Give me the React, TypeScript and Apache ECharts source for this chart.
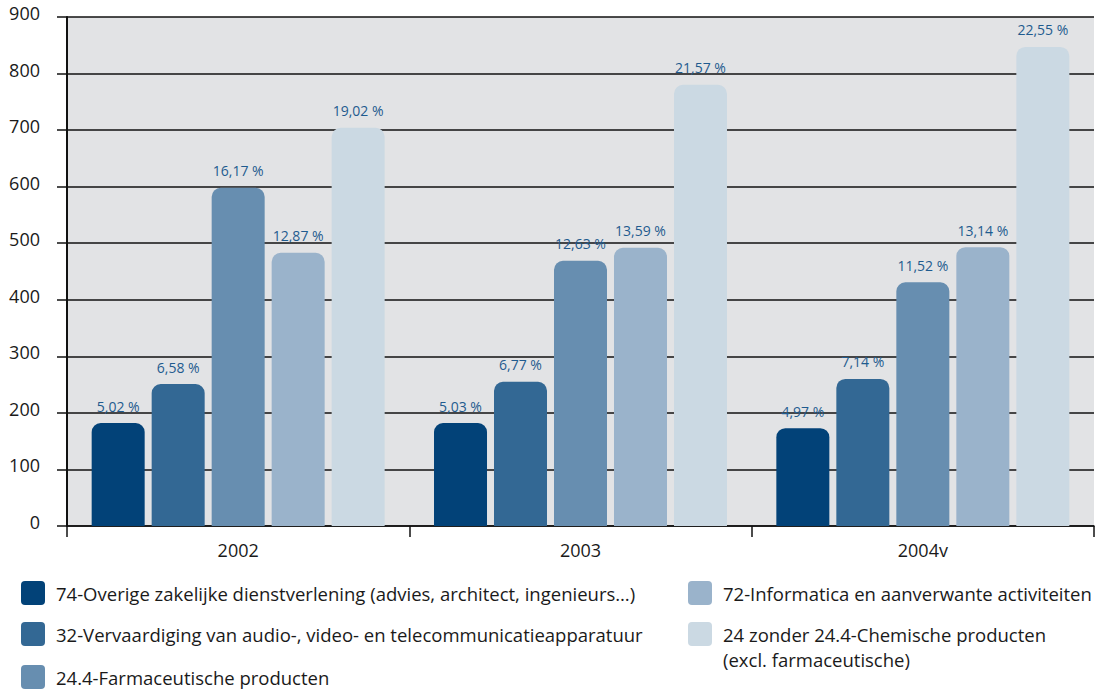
import React, { useEffect, useRef } from "react";
import * as echarts from "echarts";

const years = ["2002", "2003", "2004v"];
const seriesNames = [
  "74-Overige zakelijke dienstverlening (advies, architect, ingenieurs…)",
  "32-Vervaardiging van audio-, video- en telecommunicatieapparatuur",
  "24.4-Farmaceutische producten",
  "72-Informatica en aanverwante activiteiten",
  "24 zonder 24.4-Chemische producten\n(excl. farmaceutische)",
];
const s1 = [182, 182, 173];
const s2 = [251, 255, 260];
const s3 = [598, 469, 431];
const s4 = [483, 492, 493];
const s5 = [704, 780, 847];
const p1 = ["5,02 %", "5,03 %", "4,97 %"];
const p2 = ["6,58 %", "6,77 %", "7,14 %"];
const p3 = ["16,17 %", "12,63 %", "11,52 %"];
const p4 = ["12,87 %", "13,59 %", "13,14 %"];
const p5 = ["19,02 %", "21,57 %", "22,55 %"];
const yTicks = [0, 100, 200, 300, 400, 500, 600, 700, 800, 900];

const values = [s1, s2, s3, s4, s5];
const pcts = [p1, p2, p3, p4, p5];
const colors = ["#024278", "#336894", "#678eb0", "#9ab3cb", "#cbd9e3"];
const FONT = "'Open Sans', sans-serif";

export default function App() {
  const ref = useRef<HTMLDivElement>(null);
  useEffect(() => {
    if (!ref.current) return;
    const chart = echarts.init(ref.current, null, { renderer: "svg" });

    const legendPos = [
      { x: 21, y: 593 },
      { x: 21, y: 634 },
      { x: 21, y: 677 },
      { x: 688, y: 593 },
      { x: 688, y: 634 },
    ];
    const legendGraphics: any[] = [];
    seriesNames.forEach((name, i) => {
      const p = legendPos[i];
      legendGraphics.push({
        type: "rect",
        shape: { x: p.x, y: p.y - 12, width: 24, height: 24, r: 4 },
        style: { fill: colors[i] },
      });
      legendGraphics.push({
        type: "text",
        x: p.x + 35,
        y: p.y - 12.5,
        style: {
          text: name,
          font: `18.5px ${FONT}`,
          fill: "#1a1a1a",
          lineHeight: 25,
          verticalAlign: "top",
        },
      });
    });

    chart.setOption({
      animation: false,
      backgroundColor: "#ffffff",
      grid: {
        left: 67,
        right: 15,
        top: 17,
        bottom: 163,
        show: true,
        backgroundColor: "#e2e3e5",
        borderWidth: 0,
      },
      xAxis: {
        type: "category",
        data: years,
        axisLine: { lineStyle: { color: "#111", width: 1.5 } },
        axisTick: { show: true, length: 11, lineStyle: { color: "#111", width: 1.5 } },
        axisLabel: { color: "#1a1a1a", fontSize: 18, fontFamily: FONT, margin: 15 },
      },
      yAxis: {
        type: "value",
        min: 0,
        max: 900,
        interval: 100,
        axisLine: { show: true, lineStyle: { color: "#111", width: 2 } },
        axisTick: { show: true, length: 10, lineStyle: { color: "#111", width: 1.5 } },
        splitLine: { show: true, lineStyle: { color: "#111", width: 1.5 } },
        axisLabel: {
          color: "#1a1a1a",
          fontSize: 18,
          fontFamily: FONT,
          margin: 27,
          verticalAlign: "bottom",
          lineHeight: 8,
          formatter: (v: number) => (yTicks.includes(v) ? String(v) : ""),
        },
      },
      series: values.map((data, i) => ({
        name: seriesNames[i],
        type: "bar",
        data,
        barWidth: 53,
        barGap: "13.2%",
        itemStyle: { color: colors[i], borderRadius: [9, 9, 0, 0] },
        label: {
          show: true,
          position: "top",
          distance: 10,
          color: "#1f5b8f",
          fontSize: 14,
          fontFamily: FONT,
          formatter: (prm: any) => pcts[i][prm.dataIndex],
        },
      })),
      graphic: legendGraphics,
    });
    return () => chart.dispose();
  }, []);
  return <div ref={ref} style={{ width: 1109, height: 689, position: "absolute", left: 0, top: 0 }} />;
}
